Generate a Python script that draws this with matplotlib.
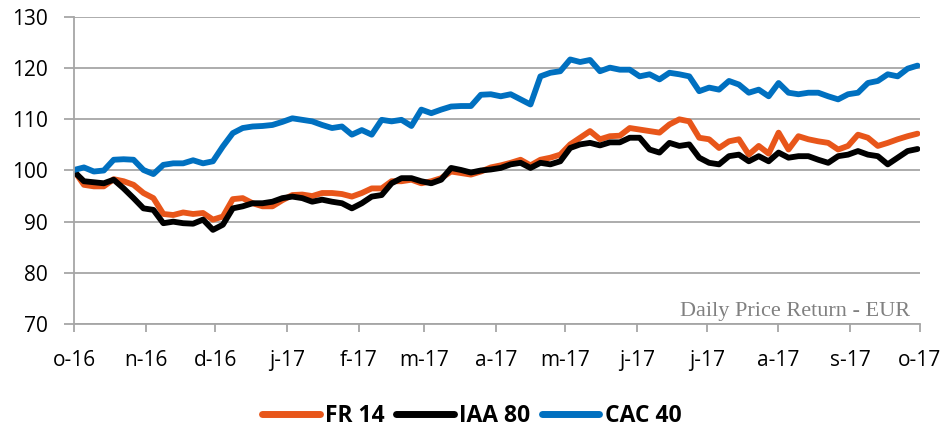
import matplotlib
matplotlib.use("Agg")
import matplotlib.pyplot as plt
import pandas as pd
import numpy as np

series_names = ["FR 14", "IAA 80", "CAC 40"]
series_colors = ["#E8561A", "#000000", "#0070C0"]

fr14 = [100, 97.2, 96.9, 96.9, 98.3, 97.9, 97.2, 95.6, 94.6, 91.5,
        91.3, 91.8, 91.5, 91.7, 90.4, 91.0, 94.4, 94.6, 93.6, 93.0,
        93.0, 94.2, 95.2, 95.3, 95.0, 95.6, 95.6, 95.4, 94.9, 95.6,
        96.5, 96.5, 97.9, 97.9, 98.2, 97.5, 97.9, 98.5, 99.8, 99.5,
        99.2, 99.8, 100.6, 101.0, 101.5, 102.1, 101.0, 102.1, 102.5, 103.1,
        105.1, 106.4, 107.7, 106.1, 106.7, 106.8, 108.3, 108.0, 107.7, 107.4,
        109.0, 110.0, 109.6, 106.4, 106.1, 104.4, 105.7, 106.1, 103.1, 104.8,
        103.3, 107.4, 104.1, 106.7, 106.1, 105.7, 105.4, 104.1, 104.8, 107.0,
        106.4, 104.8, 105.4, 106.1, 106.7, 107.2]
iaa80 = [99.8, 97.9, 97.7, 97.5, 98.2, 96.5, 94.6, 92.6, 92.3, 89.7,
         90.0, 89.7, 89.6, 90.4, 88.4, 89.4, 92.6, 93.0, 93.6, 93.6,
         93.9, 94.6, 94.9, 94.6, 93.9, 94.3, 93.9, 93.6, 92.6, 93.6,
         94.9, 95.2, 97.5, 98.5, 98.5, 97.9, 97.5, 98.2, 100.5, 100.1,
         99.6, 100.0, 100.2, 100.5, 101.2, 101.5, 100.5, 101.5, 101.2, 101.8,
         104.4, 105.1, 105.4, 104.9, 105.5, 105.5, 106.4, 106.4, 104.1, 103.5,
         105.4, 104.8, 105.1, 102.5, 101.5, 101.2, 102.8, 103.1, 101.8, 102.8,
         101.8, 103.5, 102.5, 102.8, 102.8, 102.1, 101.5, 102.8, 103.1, 103.8,
         103.1, 102.8, 101.2, 102.5, 103.8, 104.2]
cac40 = [100.1, 100.6, 99.8, 100.0, 102.1, 102.2, 102.1, 100.1, 99.3, 101.1,
         101.4, 101.4, 102.0, 101.4, 101.8, 104.7, 107.3, 108.3, 108.6, 108.7,
         108.9, 109.5, 110.2, 109.9, 109.6, 108.9, 108.3, 108.6, 107.0, 107.9,
         107.0, 109.9, 109.6, 109.9, 108.7, 111.9, 111.2, 111.9, 112.5, 112.6,
         112.6, 114.8, 114.9, 114.5, 114.9, 113.9, 112.9, 118.4, 119.1, 119.4,
         121.7, 121.2, 121.6, 119.4, 120.1, 119.7, 119.7, 118.4, 118.8, 117.8,
         119.1, 118.8, 118.4, 115.5, 116.2, 115.8, 117.5, 116.8, 115.2, 115.8,
         114.5, 117.1, 115.2, 114.9, 115.2, 115.2, 114.5, 113.9, 114.9, 115.2,
         117.1, 117.5, 118.8, 118.4, 119.9, 120.5]

start_date = "2016-10-01"
end_date = "2017-09-30"
tick_labels = ["o-16", "n-16", "d-16", "j-17", "f-17", "m-17", "a-17",
               "m-17", "j-17", "j-17", "a-17", "s-17", "o-17"]
y_ticks = [70, 80, 90, 100, 110, 120, 130]
note = "Daily Price Return - EUR"

dates = pd.date_range(start_date, end_date, periods=len(fr14))
tick_dates = pd.date_range("2016-10-01", "2017-10-01", freq="MS")

fig = plt.figure(figsize=(9.44, 4.30), dpi=100)
ax = fig.add_axes([0.0784, 0.2465, 0.896, 0.714])

for name, vals, col in zip(series_names, [fr14, iaa80, cac40], series_colors):
    ax.plot(dates, vals, color=col, lw=4.2, label=name, solid_joinstyle="round",
            solid_capstyle="round")

ax.set_ylim(70, 130)
ax.set_yticks(y_ticks)
ax.set_xlim(tick_dates[0], tick_dates[-1])
ax.set_xticks(tick_dates)
ax.set_xticklabels(tick_labels)

ax.grid(axis="y", color="#A6A6A6", lw=1.3)
ax.set_axisbelow(True)
for s in ["top", "right"]:
    ax.spines[s].set_visible(False)
for s in ["left", "bottom"]:
    ax.spines[s].set_color("#A6A6A6")
    ax.spines[s].set_linewidth(1.3)

ax.tick_params(axis="x", direction="out", length=6, width=1.3, color="#A6A6A6",
               pad=13, labelsize=15, labelcolor="#000000")
ax.tick_params(axis="y", direction="out", length=7, width=1.3, color="#A6A6A6",
               pad=12, labelsize=15, labelcolor="#000000")
for lab in ax.get_xticklabels() + ax.get_yticklabels():
    lab.set_family("Open Sans")

ax.text(0.988, 0.04, note, transform=ax.transAxes, ha="right", va="center",
        fontsize=16, color="#808080", family="Liberation Serif")

leg = fig.legend(loc="center", bbox_to_anchor=(0.5, 0.033), ncol=3, frameon=False,
                 handlelength=2.5, handletextpad=0.25, columnspacing=0.5,
                 prop={"family": "Open Sans", "weight": "bold", "size": 16.5})
for h in leg.get_lines():
    h.set_linewidth(5)

fig.savefig("out.png", dpi=100)
